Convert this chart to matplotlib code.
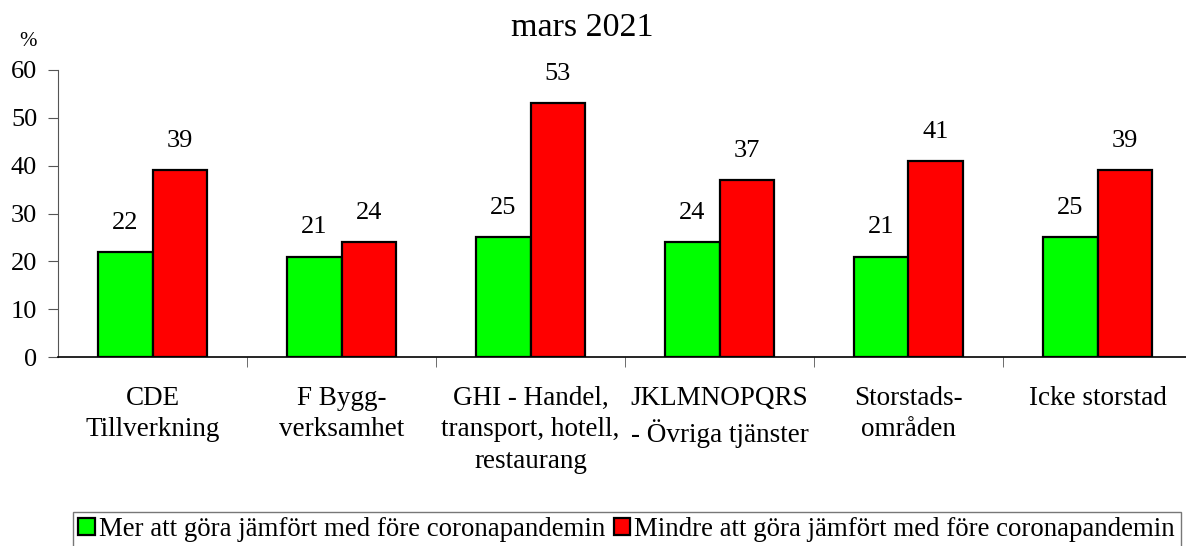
import matplotlib.pyplot as plt
import numpy as np

plt.rcParams['font.family'] = ['Liberation Serif', 'DejaVu Serif']

categories = ["CDE\nTillverkning", "F Bygg-\nverksamhet", "GHI - Handel,\ntransport, hotell,\nrestaurang",
              "JKLMNOPQRS\n- Övriga tjänster", "Storstads-\nområden", "Icke storstad"]
mer = [22, 21, 25, 24, 21, 25]
mindre = [39, 24, 53, 37, 41, 39]
labels = ["Mer att göra jämfört med före coronapandemin",
          "Mindre att göra jämfört med före coronapandemin"]

fig = plt.figure(figsize=(11.86, 5.46), dpi=100)
ax = fig.add_axes([58 / 1186, 189 / 546, 6 * 189 / 1186, 287 / 546])

x = np.arange(len(categories))
w = 0.29
b1 = ax.bar(x - w / 2, mer, w, color="#00ff00", edgecolor="black", linewidth=1.6, label=labels[0])
b2 = ax.bar(x + w / 2, mindre, w, color="#ff0000", edgecolor="black", linewidth=1.6, label=labels[1])

for bars, vals in ((b1, mer), (b2, mindre)):
    for b, v in zip(bars, vals):
        ax.annotate(str(v), (b.get_x() + b.get_width() / 2, v), xytext=(0, 13),
                    textcoords="offset points", ha="center", va="bottom", fontsize=19)

ax.set_xlim(-0.5, len(categories) - 0.5)
ax.set_ylim(0, 60)
ax.set_yticks(range(0, 61, 10))
ax.tick_params(axis="y", labelsize=19, length=7, pad=8, direction="out", color="#555555")
ax.set_xticks(x)
ax.set_xticklabels(categories, fontsize=19.5, linespacing=1.33, va="top")
ax.tick_params(axis="x", length=0, pad=21)
ax.set_xticks(np.arange(0.5, len(categories) - 0.5), minor=True)
ax.tick_params(axis="x", which="minor", length=7, color="#555555")
for s in ("top", "right"):
    ax.spines[s].set_visible(False)
ax.spines["left"].set_color("#555555")
ax.spines["bottom"].set_linewidth(1.2)

fig.text(28 / 1186, 1 - 42 / 546, "%", fontsize=15, ha="center", va="center")
fig.text(582 / 1186, 1 - 28 / 546, "mars 2021", fontsize=24.5, ha="center", va="center")

leg = fig.legend(handles=[b1, b2], labels=labels, loc="upper left",
                 bbox_to_anchor=(73 / 1186, 1 - 512 / 546), ncol=2, fontsize=19.4,
                 frameon=True, fancybox=False, edgecolor="#555555", borderpad=0.2,
                 handlelength=0.6, handleheight=0.6, handletextpad=0.15,
                 columnspacing=0.35, borderaxespad=0)
leg.get_frame().set_linewidth(1.0)

fig.savefig("out.png", dpi=100)
